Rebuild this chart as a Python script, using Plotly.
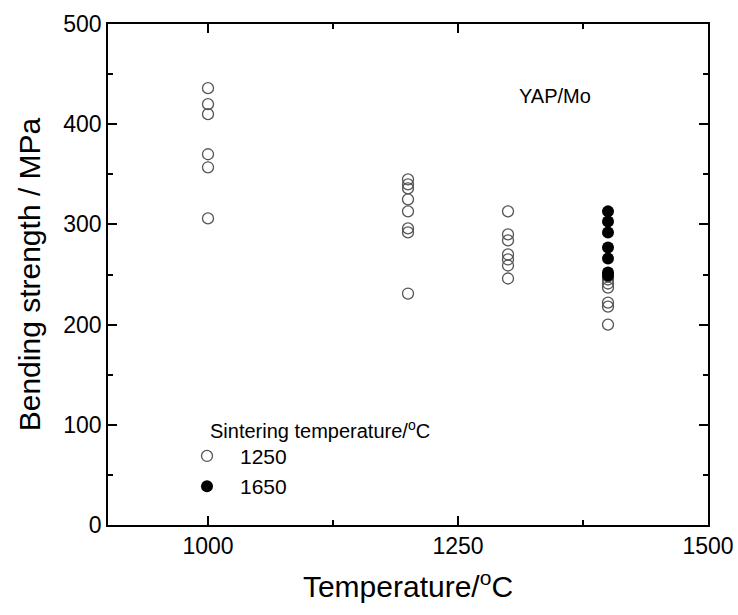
import plotly.graph_objects as go

# Data
temp_1000 = [1000] * 6
str_1000 = [436, 420, 410, 370, 357, 306]
temp_1200 = [1200] * 8
str_1200 = [345, 340, 336, 325, 313, 296, 292, 231]
temp_1300 = [1300] * 7
str_1300 = [313, 290, 284, 270, 265, 259, 246]
temp_1400_open = [1400] * 7
str_1400_open = [248, 245, 241, 237, 222, 218, 200]
temp_1400_filled = [1400] * 7
str_1400_filled = [313, 303, 292, 277, 266, 252, 249]

open_x = temp_1000 + temp_1200 + temp_1300 + temp_1400_open
open_y = str_1000 + str_1200 + str_1300 + str_1400_open

FONT = "Liberation Sans, Arial"

fig = go.Figure()
fig.add_trace(go.Scatter(
    x=open_x, y=open_y, mode="markers", name="1250",
    marker=dict(symbol="circle-open", size=11, color="#555555", line=dict(width=1.3, color="#555555")),
))
fig.add_trace(go.Scatter(
    x=temp_1400_filled, y=str_1400_filled, mode="markers", name="1650",
    marker=dict(symbol="circle", size=12, color="black"),
))

axis_common = dict(
    showline=True, linecolor="black", linewidth=1.5, mirror="allticks",
    ticks="inside", ticklen=9, tickwidth=1.5, tickcolor="black",
    showgrid=False, zeroline=False, automargin=False, ticklabeloverflow="allow",
    tickfont=dict(family=FONT, size=23, color="black"),
)

fig.update_xaxes(
    range=[900, 1500], tickvals=[1000, 1250, 1500],
    minor=dict(tickvals=[1125, 1375], ticks="inside", ticklen=5, tickwidth=1.5, tickcolor="black"),
    title=dict(text="Temperature/<sup>o</sup>C", font=dict(family=FONT, size=30, color="black"), standoff=18),
    **axis_common,
)
fig.update_yaxes(
    range=[0, 500], tickvals=[0, 100, 200, 300, 400, 500],
    minor=dict(tickvals=[50, 150, 250, 350, 450], ticks="inside", ticklen=5, tickwidth=1.5, tickcolor="black"),
    title=dict(text="Bending strength / MPa", font=dict(family=FONT, size=30, color="black"), standoff=14),
    **axis_common,
)

fig.add_annotation(x=1000, y=95, xref="x", yref="y", xanchor="left", text="Sintering temperature/<sup>o</sup>C",
                   showarrow=False, font=dict(family=FONT, size=20, color="black"))
fig.add_annotation(x=1347, y=428, xref="x", yref="y", text="YAP/Mo", showarrow=False,
                   font=dict(family=FONT, size=20, color="black"))

fig.update_layout(
    width=738, height=615,
    margin=dict(l=108, r=30, t=24, b=90),
    plot_bgcolor="white", paper_bgcolor="white",
    showlegend=True,
    legend=dict(x=0.11, y=0.178, xanchor="left", yanchor="top", bgcolor="rgba(0,0,0,0)",
                font=dict(family=FONT, size=21, color="black"), itemwidth=56, tracegroupgap=0),
)

fig.write_html("out.html")
